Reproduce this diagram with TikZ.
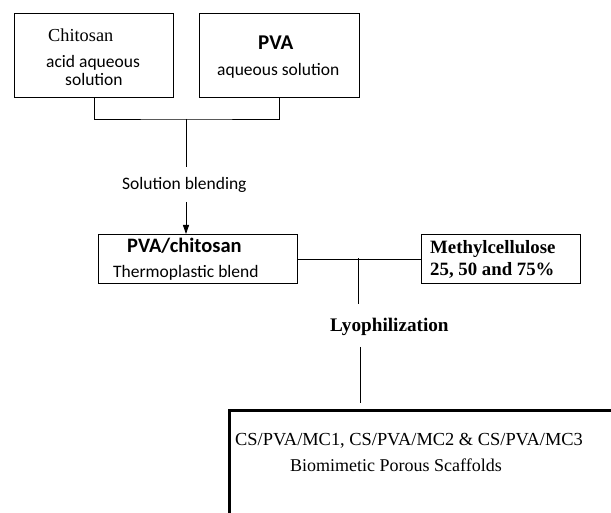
\documentclass[tikz,border=0pt]{standalone}
\usepackage{fontspec}
\setmainfont{Liberation Serif}
\newfontfamily\calfont{Carlito}
\usetikzlibrary{arrows.meta}
\begin{document}
\begin{tikzpicture}[x=1pt,y=-1pt,
  box/.style={draw,line width=1.1pt,inner sep=0pt,anchor=north west},
  txt/.style={inner sep=0pt,anchor=base west},
  conn/.style={line width=0.9pt},
  cal/.style={font=\calfont\fontsize{17.5}{20}\selectfont},
  tms/.style={font=\fontsize{18.4}{21}\selectfont},
  tmsb/.style={font=\bfseries\fontsize{18.8}{21}\selectfont}]
\path[use as bounding box,clip] (0,0) rectangle (611,513);
\fill[white] (0,0) rectangle (611,513);
% boxes
\node[box,minimum width=159pt,minimum height=84pt] (c1) at (14,13) {};
\node[box,minimum width=160pt,minimum height=84pt] (c2) at (199,13) {};
\node[box,minimum width=199pt,minimum height=49pt] (blend) at (98,234) {};
\node[box,minimum width=159pt,minimum height=49pt] (mc) at (421,234) {};
\node[box,line width=2.8pt,minimum width=420pt,minimum height=160pt] (final) at (228,409) {};
% texts
\node[txt,font=\fontsize{18.3}{21}\selectfont] (t1) at (48,42) {Chitosan};
\node[txt,cal] (t2) at (46,68) {acid aqueous};
\node[txt,cal] (t3) at (65,86) {solution};
\node[txt,font=\calfont\bfseries\fontsize{21}{24}\selectfont] (t4) at (258,50) {PVA};
\node[txt,cal] (t5) at (217,76) {aqueous solution};
\node[txt,cal] (sb) at (122,190) {Solution blending};
\node[txt,font=\calfont\bfseries\fontsize{20.5}{24}\selectfont] (t6) at (127,253) {PVA/chitosan};
\node[txt,cal] (t7) at (113,278) {Thermoplastic blend};
\node[txt,tmsb] (t8) at (430,254) {Methylcellulose};
\node[txt,tmsb] (t9) at (430,276) {25, 50 and 75\%};
\node[txt,font=\bfseries\fontsize{19.2}{21}\selectfont] (ly) at (330,332) {Lyophilization};
\node[txt,tms] (t10) at (235,445) {CS/PVA/MC1, CS/PVA/MC2 \& CS/PVA/MC3};
\node[txt,font=\fontsize{18}{21}\selectfont] (t11) at (290,471) {Biomimetic Porous Scaffolds};
% connectors
\coordinate (j1) at (186,119);
\coordinate (e1) at (186,167);
\coordinate (a1) at (186,202);
\draw[conn] (c1.south) |- (j1) -| (c2.south);
\draw[conn] (j1) -- (e1);
\draw[conn,-{Triangle[length=9pt,width=6pt]}] (a1) -- (a1 |- blend.north);
\draw[conn] (blend.east) -- (mc.west);
\coordinate (j2) at (358,258.5);
\coordinate (e2) at (358,304);
\draw[conn] (j2) -- (e2);
\coordinate (a2) at (360,347);
\draw[conn] (a2) -- (360,403);
\end{tikzpicture}
\end{document}
